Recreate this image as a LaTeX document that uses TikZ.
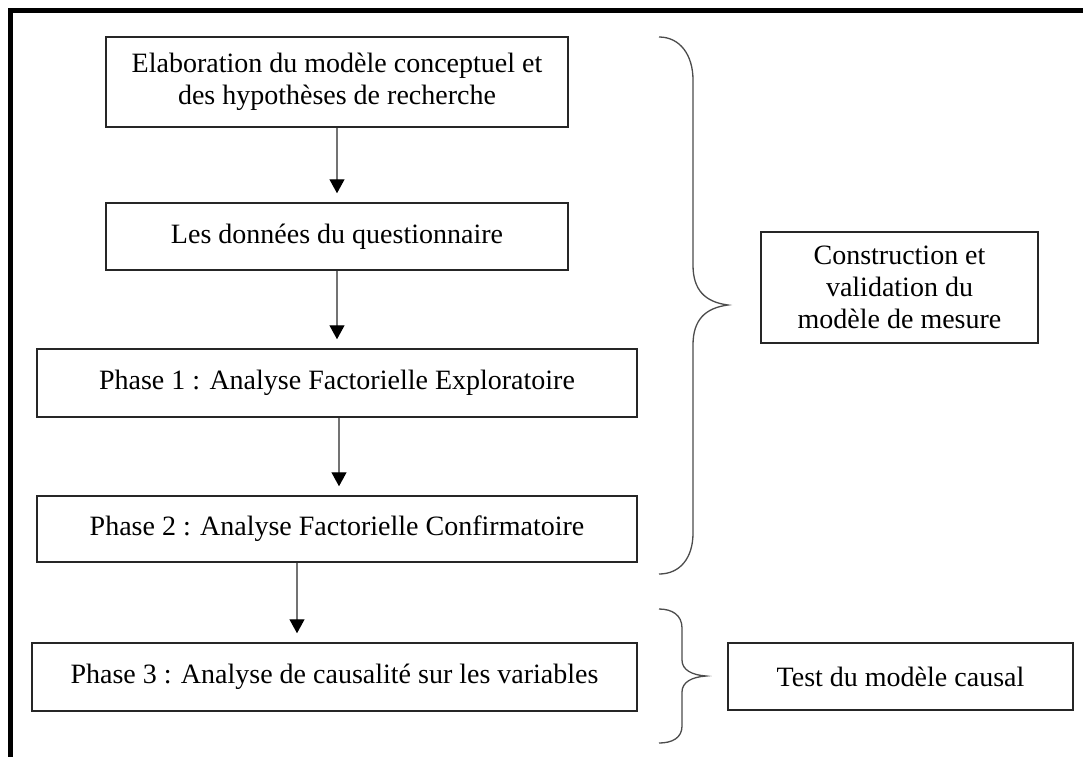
\documentclass[tikz,border=0pt]{standalone}
\usepackage{fontspec}
\setmainfont{Liberation Serif}
\usetikzlibrary{arrows.meta}
\begin{document}
\begin{tikzpicture}[x=1pt,y=-1pt,
  stepbox/.style={draw=black!85, line width=1.5pt, inner sep=0pt, align=center,
    font=\fontsize{28}{32}\selectfont},
  flow/.style={draw=black!55, line width=1.3pt, shorten >=9pt,
    -{Triangle[width=15pt,length=14pt,color=black]}},
  bracestyle/.style={draw=black!70, line width=1.3pt}]
\useasboundingbox (0,0) rectangle (1083,756);
\fill[white] (0,0) rectangle (1083,756);
% outer frame (only top and left visible)
\draw[line width=4.5pt] (10.5,762) -- (10.5,10.5) -- (1090,10.5);

\node[stepbox, minimum width=462pt, minimum height=90pt] (b1) at (337,82)
  {Elaboration du modèle conceptuel et\\des hypothèses de recherche};
\node[stepbox, minimum width=462pt, minimum height=67pt] (b2) at (337,236.5)
  {Les données du questionnaire};
\node[stepbox, minimum width=600pt, minimum height=68pt] (b3) at (337,383)
  {Phase 1 : Analyse Factorielle Exploratoire};
\node[stepbox, minimum width=600pt, minimum height=66pt] (b4) at (337,529)
  {Phase 2 : Analyse Factorielle Confirmatoire};
\node[stepbox, minimum width=605pt, minimum height=68pt] (b5) at (334.5,677)
  {Phase 3 : Analyse de causalité sur les variables};
\node[stepbox, minimum width=277pt, minimum height=111pt] (c) at (899.5,287.5)
  {Construction et\\validation du\\modèle de mesure};
\node[stepbox, minimum width=345pt, minimum height=67pt] (t) at (900.5,676.5)
  {Test du modèle causal};

\draw[flow] (b1.south) -- (b2.north);
\draw[flow] (b2.south) -- (b3.north -| b2.south);
\draw[flow] (b3.south -| 339,0) -- (b4.north -| 339,0);
\draw[flow] (b4.south -| 297,0) -- (b5.north -| 297,0);

% braces
\draw[bracestyle] (659,37) .. controls (680,37) and (693,55) .. (693,80)
  -- (693,265)
  .. controls (693,290) and (705,302) .. (728,305)
  .. controls (705,308) and (693,320) .. (693,345)
  -- (693,533)
  .. controls (693,558) and (680,574) .. (659,574);
\draw[bracestyle] (659,609) .. controls (672,609) and (682,615) .. (682,628)
  -- (682,660)
  .. controls (682,670) and (692,675) .. (706,676)
  .. controls (692,677) and (682,682) .. (682,692)
  -- (682,726)
  .. controls (682,738) and (672,743) .. (659,743);
\end{tikzpicture}
\end{document}
